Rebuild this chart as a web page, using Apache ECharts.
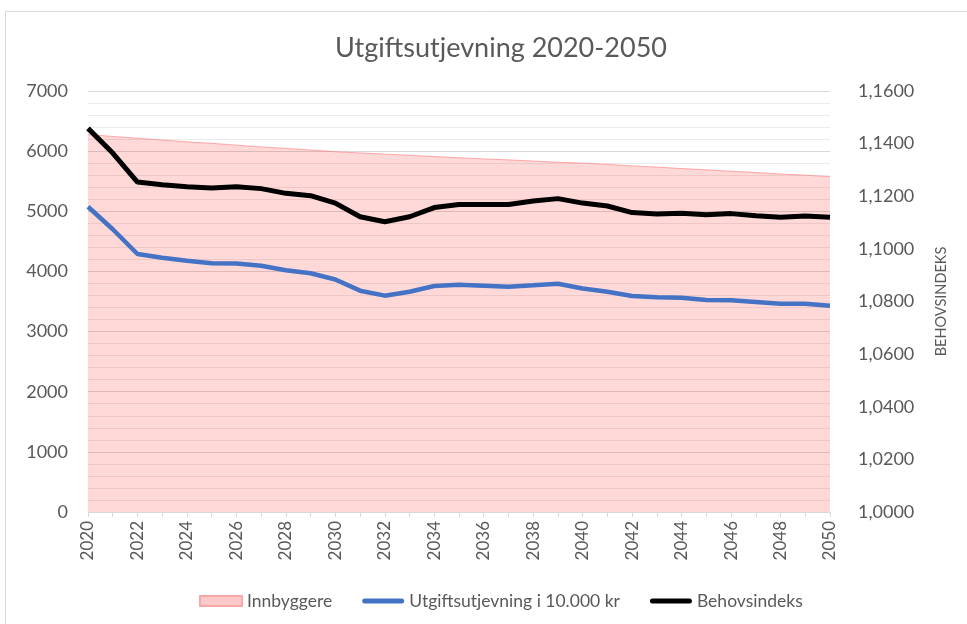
<!DOCTYPE html>
<html>
<head>
<meta charset="utf-8">
<script src="https://cdn.jsdelivr.net/npm/echarts@6/dist/echarts.min.js"></script>
<style>
  html, body { margin: 0; padding: 0; background: #fff; }
  #chart { width: 967px; height: 624px; }
</style>
</head>
<body>
<div id="chart"></div>
<script>
// år 2020-2050
const years = ['2020','2021','2022','2023','2024','2025','2026','2027','2028','2029','2030',
  '2031','2032','2033','2034','2035','2036','2037','2038','2039','2040',
  '2041','2042','2043','2044','2045','2046','2047','2048','2049','2050'];

const innbyggere = [6275, 6245, 6215, 6185, 6155, 6130, 6100, 6070, 6045, 6020, 5990,
  5970, 5950, 5930, 5910, 5890, 5870, 5855, 5835, 5815, 5800,
  5780, 5755, 5735, 5710, 5690, 5665, 5645, 5620, 5600, 5575];

const utgiftsutjevning = [5076, 4701, 4290, 4228, 4179, 4135, 4130, 4095, 4019, 3969, 3866,
  3680, 3597, 3663, 3758, 3780, 3763, 3746, 3770, 3796, 3716,
  3663, 3592, 3570, 3563, 3525, 3520, 3492, 3464, 3464, 3430];

const behovsindeks = [1.1458, 1.1364, 1.1254, 1.1244, 1.1236, 1.1231, 1.1236, 1.1229, 1.1211, 1.1202, 1.1174,
  1.1122, 1.1103, 1.1122, 1.1157, 1.1169, 1.1169, 1.1169, 1.1182, 1.1191, 1.1174,
  1.1163, 1.1138, 1.1133, 1.1135, 1.1130, 1.1134, 1.1126, 1.1120, 1.1125, 1.1120];

const font = 'Lato, "Open Sans", sans-serif';
const txt = '#595959';
const lineIcon = 'path://M2.5,0 H39.5 A2.5,2.5 0 0 1 39.5,5 H2.5 A2.5,2.5 0 0 1 2.5,0 Z';

const myChart = echarts.init(document.getElementById('chart'));
const option = {
  animation: false,
  textStyle: { fontFamily: font },
  title: {
    text: 'Utgiftsutjevning 2020-2050',
    left: 496,
    textAlign: 'center',
    top: 30,
    textStyle: { fontFamily: font, fontSize: 27, fontWeight: 'normal', color: txt }
  },
  graphic: [{
    type: 'polyline',
    shape: { points: [[5.5, 624], [5.5, 11.5], [967, 11.5]] },
    style: { stroke: '#d9d9d9', lineWidth: 1, fill: null },
    silent: true
  }],
  legend: {
    bottom: 9,
    left: 194,
    itemWidth: 42,
    itemHeight: 10,
    itemGap: 30,
    symbolKeepAspect: true,
    textStyle: { fontFamily: font, fontSize: 17.5, color: txt },
    data: [
      { name: 'Innbyggere', icon: 'rect' },
      { name: 'Utgiftsutjevning i 10.000 kr', icon: lineIcon },
      { name: 'Behovsindeks', icon: lineIcon }
    ]
  },
  grid: { left: 88, right: 137, top: 91, bottom: 112, containLabel: false },
  xAxis: {
    type: 'category',
    data: years,
    boundaryGap: false,
    axisLine: { lineStyle: { color: '#d9d9d9' } },
    axisTick: { show: true, interval: 0, length: 5, lineStyle: { color: '#d9d9d9' } },
    axisLabel: { interval: 1, rotate: 90, fontSize: 17, color: txt, margin: 9, fontFamily: font }
  },
  yAxis: [{
    type: 'value',
    min: 0,
    max: 7000,
    interval: 1000,
    axisLine: { show: false },
    axisTick: { show: false },
    axisLabel: { fontSize: 18, color: txt, margin: 20, fontFamily: font, formatter: v => String(v) },
    splitLine: { lineStyle: { color: '#d9d9d9' } },
    minorTick: { show: false, splitNumber: 5 },
    minorSplitLine: { show: true, lineStyle: { color: '#ebebeb' } }
  }, {
    type: 'value',
    min: 1,
    max: 1.16,
    interval: 0.02,
    position: 'right',
    name: 'BEHOVSINDEKS',
    nameLocation: 'middle',
    nameRotate: 90,
    nameGap: 104,
    nameTextStyle: { fontSize: 14.5, color: txt, fontFamily: font },
    axisLine: { show: false },
    axisTick: { show: false },
    splitLine: { show: false },
    axisLabel: {
      fontSize: 18, color: txt, margin: 28, fontFamily: font,
      formatter: v => v.toFixed(4).replace('.', ',')
    }
  }],
  series: [{
    name: 'Innbyggere',
    type: 'line',
    data: innbyggere,
    yAxisIndex: 0,
    symbol: 'none',
    lineStyle: { color: 'rgba(255,120,120,0.6)', width: 1 },
    itemStyle: { color: '#fcc8c8', borderColor: '#f8a8a8', borderWidth: 1 },
    areaStyle: { color: 'rgba(255,0,0,0.22)' },
    z: 1
  }, {
    name: 'Utgiftsutjevning i 10.000 kr',
    type: 'line',
    data: utgiftsutjevning,
    yAxisIndex: 0,
    symbol: 'none',
    lineStyle: { color: '#4472c4', width: 4.5 },
    itemStyle: { color: '#4472c4' },
    z: 3
  }, {
    name: 'Behovsindeks',
    type: 'line',
    data: behovsindeks,
    yAxisIndex: 1,
    symbol: 'none',
    lineStyle: { color: '#000000', width: 5 },
    itemStyle: { color: '#000000' },
    z: 4
  }]
};
option && myChart.setOption(option);
</script>
</body>
</html>
